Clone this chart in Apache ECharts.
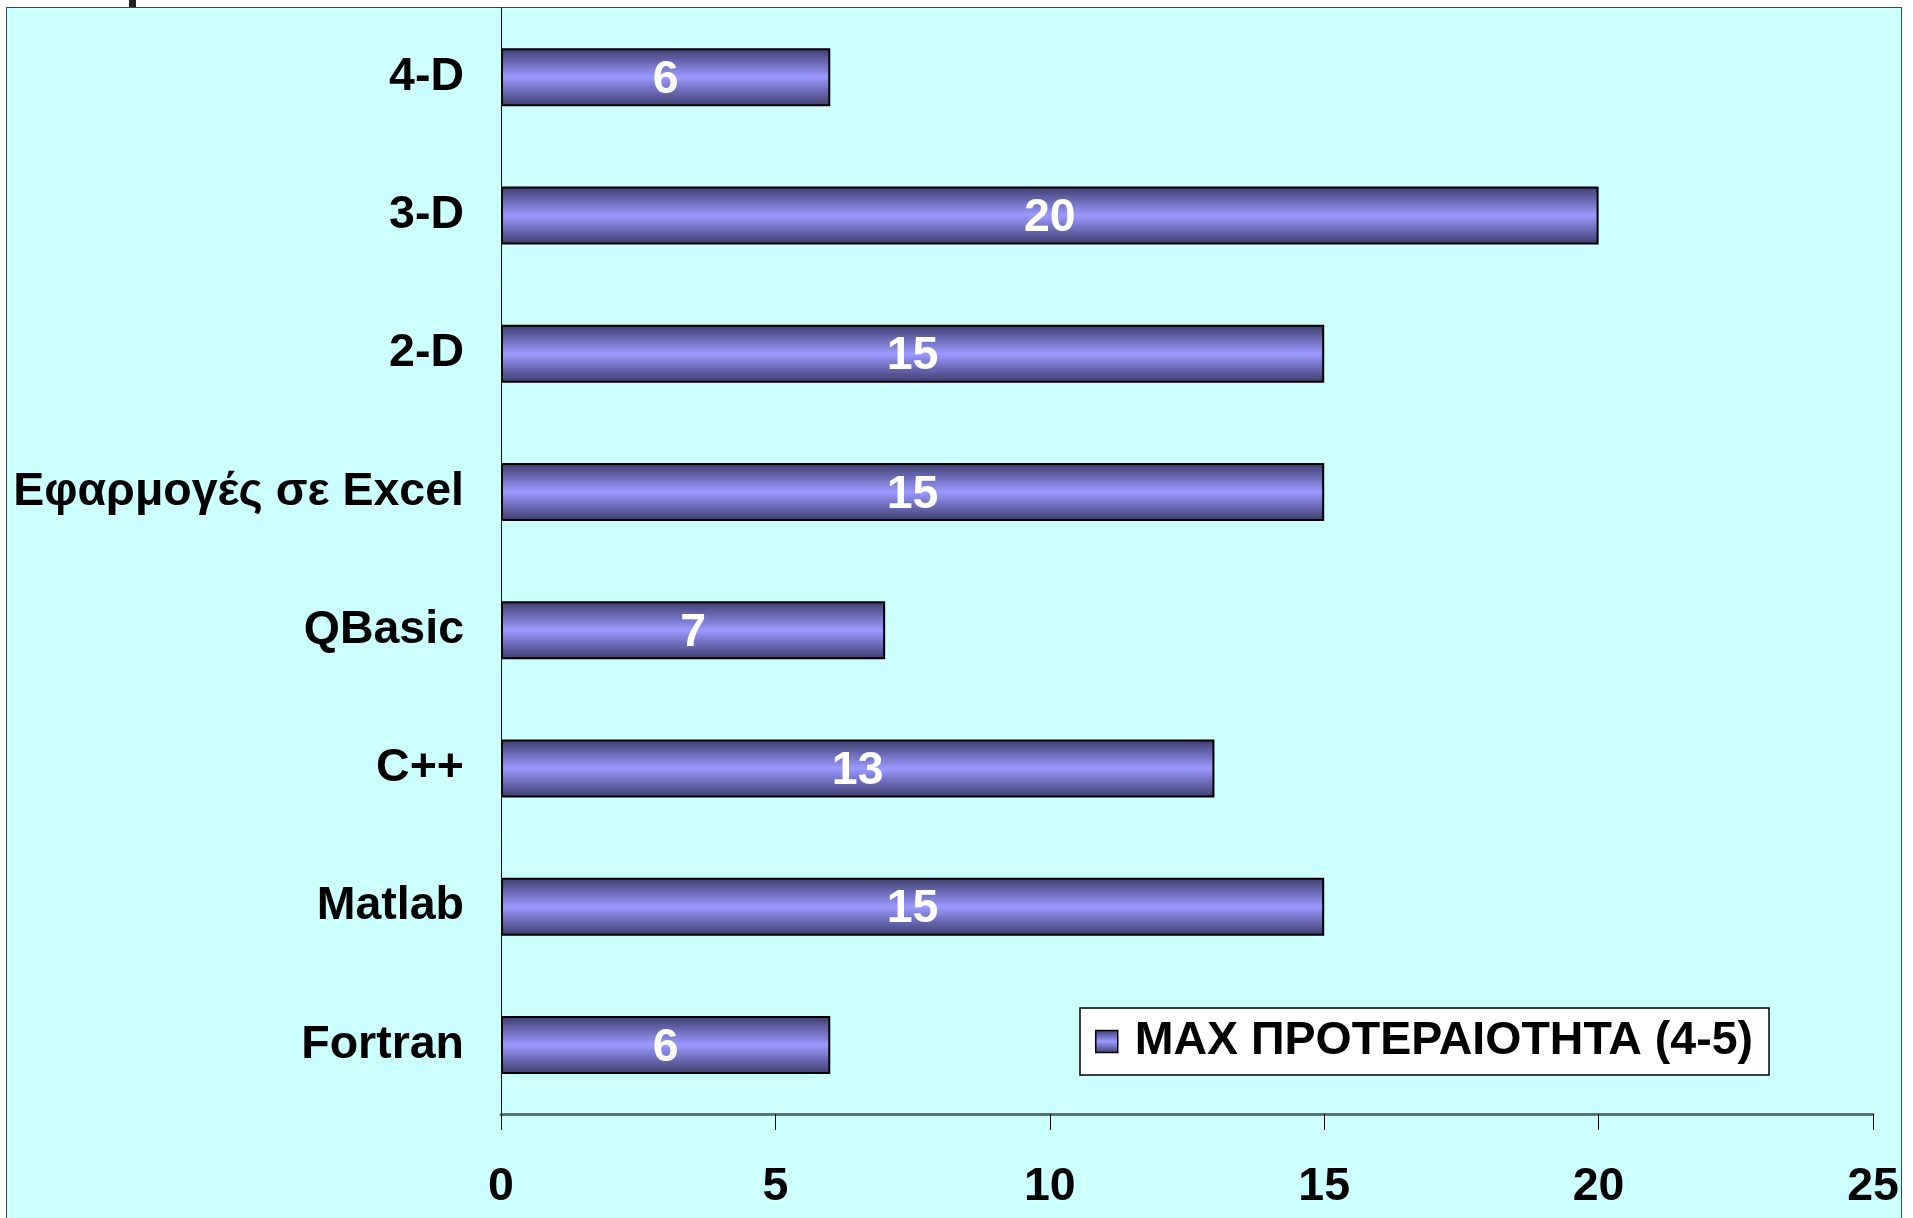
<!DOCTYPE html>
<html>
<head>
<meta charset="utf-8">
<script src="https://cdn.jsdelivr.net/npm/echarts@6/dist/echarts.min.js"></script>
<style>
  html, body { margin: 0; padding: 0; background: #ffffff; }
  #bg { position: absolute; left: 6px; top: 7px; width: 1896px; height: 1220px; background: #CCFFFF; border: 1px solid #3a4a4a; box-sizing: border-box; }
  #mark { position: absolute; left: 129px; top: 0; width: 7px; height: 7px; background: #222222; }
  #chart { position: absolute; left: 0; top: 0; width: 1913px; height: 1218px; }
</style>
</head>
<body>
<div id="bg"></div>
<div id="mark"></div>
<div id="chart"></div>
<script>
const categories = ['Fortran', 'Matlab', 'C++', 'QBasic', 'Εφαρμογές σε Excel', '2-D', '3-D', '4-D'];
const seriesName = 'MAX ΠΡΟΤΕΡΑΙΟΤΗΤΑ (4-5)';
const values = [6, 15, 13, 7, 15, 15, 20, 6];
const xTicks = [0, 5, 10, 15, 20, 25];

const FONT = '"Liberation Sans", Arial, sans-serif';
const FS = 46.5;
const barGradient = {
  type: 'linear', x: 0, y: 0, x2: 0, y2: 1,
  colorStops: [
    { offset: 0, color: '#3c3c6c' },
    { offset: 0.22, color: '#6565ad' },
    { offset: 0.5, color: '#9a9aff' },
    { offset: 0.78, color: '#6565ad' },
    { offset: 1, color: '#3c3c6c' }
  ]
};

const chart = echarts.init(document.getElementById('chart'), null, { renderer: 'canvas' });
chart.setOption({
  backgroundColor: 'transparent',
  animation: false,
  textStyle: { fontFamily: FONT },
  grid: { left: 501, right: 40, top: 8, bottom: 104, containLabel: false },
  legend: {
    data: [seriesName],
    left: 1080, top: 1008,
    orient: 'horizontal',
    backgroundColor: '#ffffff',
    borderColor: '#000000', borderWidth: 1.5,
    padding: [10, 16, 10, 15],
    icon: 'rect', itemWidth: 22, itemHeight: 22,
    itemStyle: { color: barGradient, borderColor: '#000000', borderWidth: 1.5 },
    textStyle: { fontFamily: FONT, fontSize: FS, fontWeight: 'bold', color: '#000000', padding: [4, 0, 0, 12] },
    selectedMode: false
  },
  xAxis: {
    type: 'value',
    min: xTicks[0], max: xTicks[xTicks.length - 1], interval: 5,
    splitLine: { show: false },
    axisLine: { show: true, lineStyle: { color: '#5f7272', width: 3 } },
    axisTick: { show: true, length: 16, lineStyle: { color: '#000000', width: 1 } },
    axisLabel: { fontFamily: FONT, fontSize: FS, fontWeight: 'bold', color: '#000000', margin: 50 }
  },
  yAxis: {
    type: 'category',
    data: categories,
    axisLine: { show: true, lineStyle: { color: '#000000', width: 1 } },
    axisTick: { show: false },
    axisLabel: { fontFamily: FONT, fontSize: FS, fontWeight: 'bold', color: '#000000', margin: 37, padding: [5, 0, 0, 0] },
    splitLine: { show: false }
  },
  series: [{
    name: seriesName,
    type: 'bar',
    data: values,
    barWidth: 58,
    itemStyle: { color: barGradient, borderColor: '#000000', borderWidth: 2 },
    label: {
      show: true, position: 'inside', offset: [0, 3],
      fontFamily: FONT, fontSize: FS, fontWeight: 'bold', color: '#ffffff'
    }
  }]
});
</script>
</body>
</html>
